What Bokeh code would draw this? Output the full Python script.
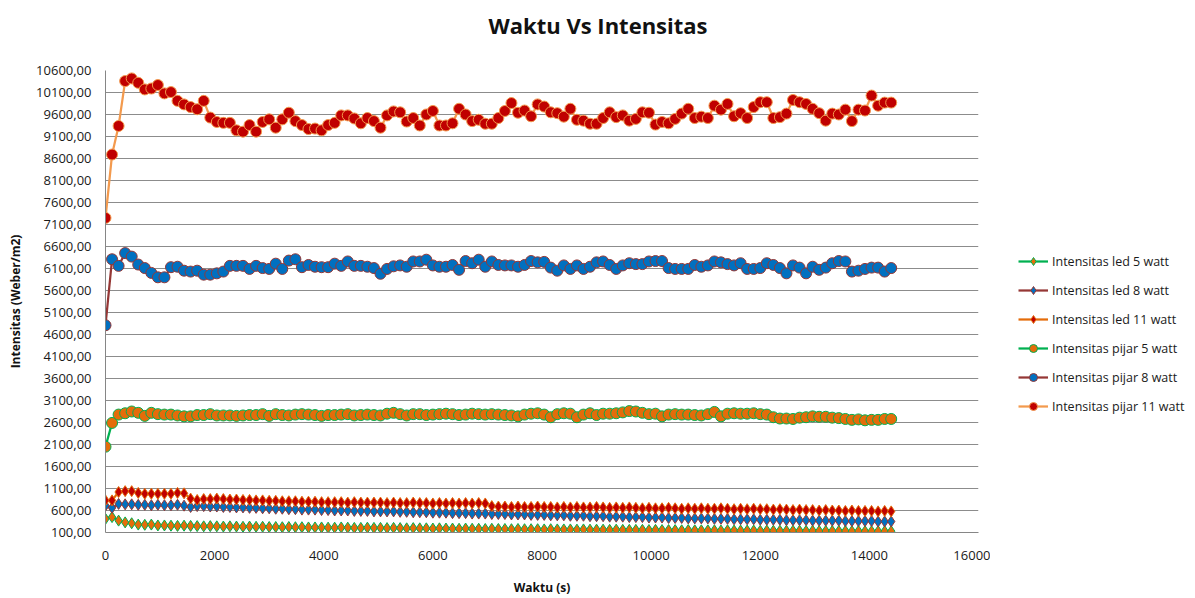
from bokeh.plotting import figure
from bokeh.models import Range1d, FixedTicker, Legend, LegendItem, Title
from bokeh.layouts import row
from bokeh.embed import file_html
from bokeh.resources import INLINE

# ---------------- data ----------------
waktu = [0, 120, 240, 360, 480, 600, 720, 840, 960, 1080, 1200, 1320, 1440, 1560, 1680, 1800,
         1920, 2040, 2160, 2280, 2400, 2520, 2640, 2760, 2880, 3000, 3120, 3240, 3360, 3480,
         3600, 3720, 3840, 3960, 4080, 4200, 4320, 4440, 4560, 4680, 4800, 4920, 5040, 5160,
         5280, 5400, 5520, 5640, 5760, 5880, 6000, 6120, 6240, 6360, 6480, 6600, 6720, 6840,
         6960, 7080, 7200, 7320, 7440, 7560, 7680, 7800, 7920, 8040, 8160, 8280, 8400, 8520,
         8640, 8760, 8880, 9000, 9120, 9240, 9360, 9480, 9600, 9720, 9840, 9960, 10080, 10200,
         10320, 10440, 10560, 10680, 10800, 10920, 11040, 11160, 11280, 11400, 11520, 11640,
         11760, 11880, 12000, 12120, 12240, 12360, 12480, 12600, 12720, 12840, 12960, 13080,
         13200, 13320, 13440, 13560, 13680, 13800, 13920, 14040, 14160, 14280, 14400]

led_5 = [410, 450, 370, 330, 310, 280, 275, 280, 260, 260, 255, 250, 255,
         250, 245, 240, 245, 240, 235, 240, 235, 230, 235, 230, 230, 225, 225, 220, 225, 220,
         220, 215, 215, 215, 210, 210, 215, 210, 205, 205, 210, 205, 205, 200, 205,
         200, 195, 200, 195, 195, 190, 195, 190, 190, 185, 190, 185, 185, 180, 185, 180, 180,
         175, 180, 175, 175, 175, 170, 175, 170, 170, 170, 165, 170, 165, 165, 165, 160, 165,
         160, 160,
         160, 160, 155, 160, 155, 155, 155, 150, 155, 150, 150, 150, 150, 145, 150, 145, 145,
         145, 145, 140, 145, 140, 140, 140, 140, 140, 135, 140, 135, 135, 135, 135, 135, 130,
         135, 130, 130, 130, 130, 130]

led_8 = [710, 660, 750, 740, 740, 730, 730, 720, 730, 720, 720, 730, 710,
         680, 700, 700, 690, 690, 680, 680, 670, 670, 660, 660, 650, 650, 640, 640, 630, 630,
         620, 620, 620, 610, 610, 600, 600, 600, 590, 590, 590, 580, 580, 580, 580,
         570, 570, 560, 560, 560, 550, 550, 550, 540, 540, 540, 530, 530, 530, 520, 520, 520,
         510, 510, 510, 500, 500, 500, 490, 490, 490, 480, 480, 480, 470, 470, 470, 460, 460,
         460, 450,
         450, 450, 440, 440, 440, 430, 430, 430, 420, 420, 420, 420, 410, 410, 410, 400, 400,
         400, 400, 390, 390, 390, 390, 380, 380, 380, 380, 370, 370, 370, 370, 370, 360, 360,
         360, 360, 360, 350, 350, 350]

led_11 = [830, 830, 1020, 1040, 1040, 1000, 980, 980, 980, 980, 980, 1000, 990,
          870, 840, 860, 860, 870, 860, 850, 850, 840, 840, 830, 830, 820, 820, 810, 810, 810,
          800, 800, 800, 790, 790, 790, 790, 780, 790, 780, 780, 780, 780, 770, 780,
          770, 770, 780, 770, 770, 760, 770, 760, 770, 760, 770, 760, 770, 760,
          700, 690, 690, 680, 690, 680, 680, 690, 680, 680, 670, 680, 670, 680, 670, 670, 680,
          670, 660, 670, 660, 670,
          660, 650, 660, 650, 650, 660, 650, 640, 650, 640, 650, 640, 640, 650, 640, 630, 640,
          630, 640, 630,
          630, 620, 630, 620, 610, 620, 610, 610, 600, 610, 600, 600, 590, 600, 590, 590, 590,
          580, 590, 580]

pijar_5 = [2050, 2590, 2780, 2810, 2850, 2820, 2750, 2820, 2790, 2780, 2780, 2760, 2740, 2740,
           2770, 2770, 2790, 2760, 2760, 2760, 2750, 2760, 2770, 2770, 2790, 2750, 2790, 2770,
           2760, 2780, 2790, 2780, 2770, 2750, 2770, 2770, 2780, 2790, 2760, 2770, 2780, 2770,
           2760, 2800, 2820,
           2790, 2760, 2790, 2790, 2770, 2780, 2790, 2800, 2790, 2770, 2780, 2800, 2790, 2780,
           2790, 2780, 2770, 2760, 2740, 2780, 2800, 2810, 2780, 2720, 2790, 2810, 2800, 2720,
           2780, 2810, 2770, 2800, 2800, 2810, 2830, 2860, 2850, 2820, 2790, 2800, 2740, 2780,
           2790, 2780, 2780, 2770, 2760, 2790, 2840, 2740, 2800, 2810, 2800, 2800, 2810, 2790,
           2780, 2720, 2690, 2690, 2680, 2710, 2720, 2740, 2730, 2730, 2710, 2700, 2680, 2660,
           2670, 2650, 2660, 2660, 2680, 2680]

pijar_8 = [4810, 6310, 6160, 6450, 6370, 6190, 6110, 6000, 5900, 5900, 6130, 6140, 6050, 6030,
           6050, 5960, 5960, 5990, 6030, 6160, 6160, 6160, 6090, 6160, 6110, 6090, 6210, 6090,
           6280, 6310, 6130, 6180, 6140, 6130, 6130, 6210, 6160, 6260, 6160, 6160, 6140, 6110,
           5980, 6090, 6150,
           6170, 6140, 6260, 6260, 6300, 6170, 6140, 6140, 6180, 6070, 6270, 6220, 6300, 6140,
           6260, 6180, 6170, 6170, 6140, 6180, 6270, 6240,
           6250, 6120, 6050, 6170, 6090, 6170, 6090, 6140, 6240, 6260, 6180, 6090, 6170, 6220,
           6200, 6200, 6260, 6270, 6270, 6110, 6090, 6090, 6090, 6180, 6140, 6170, 6260, 6240,
           6200, 6170, 6220, 6090, 6090, 6110, 6220, 6180, 6110, 5990, 6170, 6120, 5990, 6140,
           6070, 6120, 6220, 6270, 6260, 6030, 6050, 6090, 6120, 6120, 6030, 6110]

pijar_11 = [7250, 8690, 9340, 10360, 10420, 10320, 10170, 10190, 10270, 10080, 10110, 9910,
            9830, 9770, 9720, 9910, 9530, 9430, 9410, 9410, 9240, 9210, 9360, 9210, 9430, 9490,
            9300, 9490, 9640, 9450, 9360, 9270, 9280, 9240, 9360, 9410, 9580, 9580, 9510, 9400,
            9520, 9450, 9300, 9580, 9670,
            9650, 9440, 9520, 9350, 9600, 9680, 9350, 9350, 9400, 9730, 9600, 9450, 9480, 9390,
            9390, 9520, 9680, 9860, 9640, 9690, 9560, 9830, 9780, 9650, 9630, 9550, 9730, 9480,
            9460, 9390, 9390, 9520, 9650, 9540, 9580, 9460, 9500, 9650, 9640, 9370, 9430, 9400,
            9500, 9620, 9730, 9520, 9550, 9520, 9800, 9710, 9840, 9560, 9630, 9520, 9770, 9880,
            9880, 9520, 9540, 9620, 9930, 9880, 9840, 9730, 9630, 9460, 9620, 9600, 9710, 9450,
            9710, 9690, 10030, 9800, 9870, 9870]

series_names = ["Intensitas led 5 watt", "Intensitas led 8 watt", "Intensitas led 11 watt",
                "Intensitas pijar 5 watt", "Intensitas pijar 8 watt", "Intensitas pijar 11 watt"]

y_ticks = [100, 600, 1100, 1600, 2100, 2600, 3100, 3600, 4100, 4600, 5100, 5600, 6100, 6600,
           7100, 7600, 8100, 8600, 9100, 9600, 10100, 10600]
y_tick_labels = ["100,00", "600,00", "1100,00", "1600,00", "2100,00", "2600,00", "3100,00",
                 "3600,00", "4100,00", "4600,00", "5100,00", "5600,00", "6100,00", "6600,00",
                 "7100,00", "7600,00", "8100,00", "8600,00", "9100,00", "9600,00", "10100,00",
                 "10600,00"]
x_ticks = [0, 2000, 4000, 6000, 8000, 10000, 12000, 14000, 16000]

# ---------------- styles ----------------
styles = [
    dict(line="#00B050", fill="#E46C0A", marker="diamond", size=11),
    dict(line="#953735", fill="#0070C0", marker="diamond", size=11),
    dict(line="#E46C0A", fill="#C00000", marker="diamond", size=11),
    dict(line="#00B050", fill="#E46C0A", marker="circle", size=11),
    dict(line="#953735", fill="#0070C0", marker="circle", size=11),
    dict(line="#F39A4E", fill="#C00000", marker="circle", size=11),
]

FONT = "Open Sans"
all_series = [led_5, led_8, led_11, pijar_5, pijar_8, pijar_11]

# ---------------- main chart ----------------
p = figure(width=990, height=598, output_backend="svg", toolbar_location=None,
           x_range=Range1d(0, 16000), y_range=Range1d(100, 10600),
           min_border_left=105, min_border_right=12, min_border_top=70, min_border_bottom=66,
           title=None)

# spacer (closest to the frame) then the real title above it
spacer = Title(text=" ", text_font_size="8px", standoff=20)
p.add_layout(spacer, "above")
main_title = Title(text="Waktu Vs Intensitas", align="left", offset=383, standoff=0,
                   text_font=FONT, text_font_size="22px", text_font_style="bold",
                   text_color="#111111")
p.add_layout(main_title, "above")

p.outline_line_color = None
p.background_fill_color = "white"
p.border_fill_color = "white"

p.xgrid.grid_line_color = None
p.ygrid.grid_line_color = "#8C8C8C"
p.ygrid.grid_line_width = 1

p.yaxis.ticker = FixedTicker(ticks=y_ticks)
p.yaxis.major_label_overrides = {t: l for t, l in zip(y_ticks, y_tick_labels)}
p.xaxis.ticker = FixedTicker(ticks=x_ticks)

for ax in (p.xaxis[0], p.yaxis[0]):
    ax.axis_line_color = "#868686"
    ax.major_tick_line_color = None
    ax.minor_tick_line_color = None
    ax.major_tick_out = 0
    ax.major_tick_in = 0
    ax.major_label_text_font = FONT
    ax.major_label_text_font_size = "13px"
    ax.major_label_text_color = "#1a1a1a"
    ax.axis_label_text_font = FONT
    ax.axis_label_text_font_size = "12px"
    ax.axis_label_text_font_style = "bold"
    ax.axis_label_text_color = "#111111"

p.xaxis.axis_label = "Waktu (s)"
p.xaxis.major_label_standoff = 18
p.xaxis.axis_label_standoff = 16
p.yaxis.axis_label = "Intensitas (Weber/m2)"
p.yaxis.major_label_standoff = 14
p.yaxis.axis_label_standoff = 9

for vals, st in zip(all_series, styles):
    p.line(waktu, vals, line_color=st["line"], line_width=2.25)
    p.scatter(waktu, vals, marker=st["marker"], size=st["size"],
              fill_color=st["fill"], line_color=st["line"], line_width=1)

# ---------------- legend panel ----------------
# same series, drawn outside this panel's visible range so only the legend shows
lg = figure(width=205, height=598, output_backend="svg", toolbar_location=None,
            x_axis_location=None, y_axis_location=None, min_border=0,
            x_range=Range1d(-3, -2), y_range=Range1d(-3, -2))
lg.outline_line_color = None
lg.grid.visible = False
lg.background_fill_color = "white"
lg.border_fill_color = "white"

items = []
for name, vals, st in zip(series_names, all_series, styles):
    lr = lg.line(waktu, vals, line_color=st["line"], line_width=2.25)
    sr = lg.scatter(waktu, vals, marker=st["marker"], size=st["size"],
                    fill_color=st["fill"], line_color=st["line"], line_width=1)
    items.append(LegendItem(label=name, renderers=[lr, sr]))

legend = Legend(items=items, location=(28, 116))
legend.margin = 0
legend.padding = 4
legend.border_line_color = None
legend.background_fill_alpha = 0
legend.glyph_width = 30
legend.glyph_height = 20
legend.label_height = 20
legend.spacing = 9
legend.label_standoff = 4
legend.label_text_font = FONT
legend.label_text_font_size = "12.5px"
legend.label_text_color = "#1a1a1a"
lg.add_layout(legend)

layout = row(p, lg)
open("out.html", "w").write(file_html(layout, INLINE))
